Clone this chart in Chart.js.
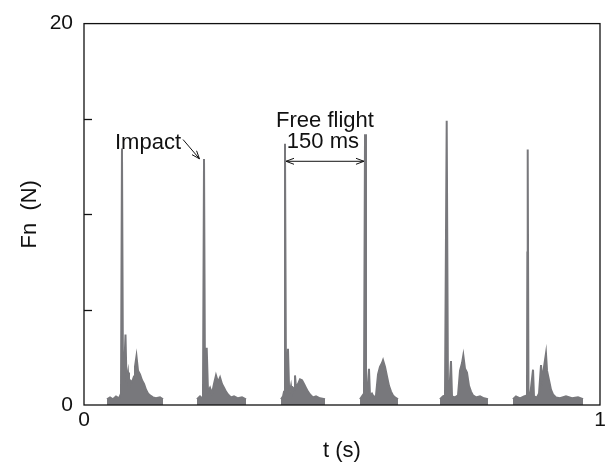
<!DOCTYPE html>
<html>
<head>
<meta charset="utf-8">
<script src="https://cdn.jsdelivr.net/npm/chart.js@4.4.0/dist/chart.umd.min.js"></script>
<style>
  html, body { margin: 0; padding: 0; background: #fff; }
  #wrap { width: 615px; height: 464px; }
</style>
</head>
<body>
<div id="wrap"><canvas id="chart" width="615" height="464"></canvas></div>
<script>
// normal force Fn (N) against time t (s), six hops
const burst1T = [0.0446, 0.0504, 0.0562, 0.0620, 0.0678, 0.0717, 0.0736, 0.0756, 0.0775, 0.0804, 0.0824, 0.0853, 0.0872, 0.0891, 0.0930, 0.0969, 0.0988, 0.1017, 0.1047, 0.1085, 0.1124, 0.1163, 0.1202, 0.1240, 0.1279, 0.1337, 0.1395, 0.1473, 0.1531];
const burst1F = [0.3, 0.4, 0.3, 0.45, 0.35, 0.6, 13.45, 0.8, 1.5, 3.7, 1.2, 1.7, 0.9, 1.3, 1.2, 1.5, 2.0, 2.55, 1.8, 1.6, 1.3, 1.1, 0.8, 0.6, 0.5, 0.4, 0.35, 0.4, 0.3];

const burst2T = [0.2190, 0.2248, 0.2287, 0.2306, 0.2326, 0.2345, 0.2378, 0.2403, 0.2442, 0.2481, 0.2519, 0.2558, 0.2597, 0.2636, 0.2674, 0.2713, 0.2752, 0.2791, 0.2849, 0.2907, 0.2984, 0.3062, 0.3140];
const burst2F = [0.3, 0.45, 0.35, 0.6, 12.9, 0.8, 3.0, 0.7, 0.9, 0.6, 1.1, 1.55, 1.2, 1.45, 1.1, 0.9, 0.7, 0.55, 0.4, 0.45, 0.35, 0.4, 0.3];

const burst3T = [0.3818, 0.3857, 0.3876, 0.3895, 0.3915, 0.3934, 0.3953, 0.3973, 0.3992, 0.4012, 0.4031, 0.4070, 0.4089, 0.4109, 0.4147, 0.4186, 0.4225, 0.4264, 0.4302, 0.4341, 0.4380, 0.4438, 0.4496, 0.4574, 0.4671];
const burst3F = [0.3, 0.45, 0.7, 13.7, 0.9, 1.2, 2.95, 1.0, 0.7, 1.0, 0.6, 0.9, 1.55, 0.9, 1.1, 1.35, 1.3, 1.1, 0.9, 0.7, 0.55, 0.4, 0.45, 0.35, 0.3];

const burst4T = [0.5349, 0.5388, 0.5426, 0.5446, 0.5465, 0.5484, 0.5523, 0.5543, 0.5581, 0.5620, 0.5659, 0.5698, 0.5736, 0.5775, 0.5795, 0.5833, 0.5872, 0.5911, 0.5950, 0.5988, 0.6027, 0.6085];
const burst4F = [0.3, 0.45, 0.6, 14.2, 0.6, 0.45, 1.9, 0.45, 0.6, 0.4, 0.5, 1.6, 2.0, 2.2, 2.35, 2.0, 1.5, 1.0, 0.7, 0.5, 0.4, 0.3];

const burst5T = [0.6899, 0.6957, 0.6996, 0.7029, 0.7054, 0.7074, 0.7112, 0.7132, 0.7190, 0.7248, 0.7287, 0.7326, 0.7351, 0.7384, 0.7422, 0.7461, 0.7500, 0.7539, 0.7597, 0.7674, 0.7752, 0.7829];
const burst5F = [0.3, 0.45, 0.5, 14.9, 0.6, 0.4, 2.3, 0.45, 0.4, 0.5, 1.8, 2.2, 2.6, 1.9, 1.7, 1.0, 0.7, 0.5, 0.4, 0.45, 0.35, 0.3];

const burst6T = [0.8314, 0.8372, 0.8450, 0.8527, 0.8585, 0.8592, 0.8599, 0.8614, 0.8643, 0.8702, 0.8721, 0.8779, 0.8818, 0.8857, 0.8876, 0.8915, 0.8953, 0.8973, 0.9012, 0.9050, 0.9089, 0.9147, 0.9225, 0.9341, 0.9457, 0.9574, 0.9671];
const burst6F = [0.3, 0.45, 0.35, 0.45, 0.5, 8.0, 13.4, 0.7, 0.4, 1.85, 0.45, 0.4, 0.6, 2.1, 1.3, 2.0, 2.7, 1.8, 1.3, 0.8, 0.55, 0.4, 0.35, 0.45, 0.35, 0.4, 0.3];

const bursts = [[burst1T, burst1F], [burst2T, burst2F], [burst3T, burst3F],
                [burst4T, burst4F], [burst5T, burst5F], [burst6T, burst6F]];

const xTicks = [0, 1];
const yTicks = [0, 20];

const FONT = 'Liberation Sans, Arial, Helvetica, sans-serif';
const GREY = '#78787c';

function arrowHead(ctx, x0, y0, x1, y1, len, wid) {
  const a = Math.atan2(y1 - y0, x1 - x0);
  ctx.beginPath();
  ctx.moveTo(x1, y1);
  ctx.lineTo(x1 - len * Math.cos(a) + wid * Math.sin(a), y1 - len * Math.sin(a) - wid * Math.cos(a));
  ctx.moveTo(x1, y1);
  ctx.lineTo(x1 - len * Math.cos(a) - wid * Math.sin(a), y1 - len * Math.sin(a) + wid * Math.cos(a));
  ctx.stroke();
}

// frame, inner ticks and the text notes
const framePlugin = {
  id: 'frame',
  afterDatasetsDraw(chart) {
    const { ctx, chartArea: a, scales: { x, y } } = chart;
    ctx.save();
    ctx.strokeStyle = '#111';
    ctx.lineWidth = 1.3;
    ctx.strokeRect(a.left, a.top, a.right - a.left, a.bottom - a.top);
    [5, 10, 15].forEach(v => {
      const py = Math.round(y.getPixelForValue(v)) + 0.5;
      ctx.beginPath();
      ctx.moveTo(a.left, py);
      ctx.lineTo(a.left + 8, py);
      ctx.stroke();
    });

    ctx.fillStyle = '#111';
    ctx.font = '22px ' + FONT;
    ctx.textBaseline = 'alphabetic';
    ctx.textAlign = 'left';
    ctx.fillText('Impact', x.getPixelForValue(0.0601), y.getPixelForValue(13.4));

    ctx.lineWidth = 1;
    const ax0 = x.getPixelForValue(0.1919), ay0 = y.getPixelForValue(13.92);
    const ax1 = x.getPixelForValue(0.2238), ay1 = y.getPixelForValue(12.91);
    ctx.beginPath();
    ctx.moveTo(ax0, ay0);
    ctx.lineTo(ax1, ay1);
    ctx.stroke();
    arrowHead(ctx, ax0, ay0, ax1, ay1, 8, 3);

    ctx.textAlign = 'center';
    ctx.fillText('Free flight', x.getPixelForValue(0.467), y.getPixelForValue(14.6));
    ctx.fillText('150 ms', x.getPixelForValue(0.463), y.getPixelForValue(13.5));

    const dy = y.getPixelForValue(12.78);
    const dx0 = x.getPixelForValue(0.3915), dx1 = x.getPixelForValue(0.5426);
    ctx.beginPath();
    ctx.moveTo(dx0, dy);
    ctx.lineTo(dx1, dy);
    ctx.stroke();
    arrowHead(ctx, dx1, dy, dx0, dy, 8, 3);
    arrowHead(ctx, dx0, dy, dx1, dy, 8, 3);
    ctx.restore();
  }
};

new Chart(document.getElementById('chart'), {
  type: 'scatter',
  data: {
    datasets: bursts.map(([T, F], i) => ({
      label: 'hop ' + (i + 1),
      data: T.map((t, k) => ({ x: t, y: F[k] })),
      showLine: true,
      fill: 'origin',
      borderColor: GREY,
      backgroundColor: GREY,
      borderWidth: 2,
      pointRadius: 0,
      tension: 0
    }))
  },
  options: {
    responsive: false,
    animation: false,
    devicePixelRatio: 1,
    layout: { padding: { top: 20, right: 15, left: 0, bottom: 0 } },
    plugins: { legend: { display: false }, tooltip: { enabled: false } },
    scales: {
      x: {
        type: 'linear', min: 0, max: 1,
        afterBuildTicks: s => { s.ticks = xTicks.map(v => ({ value: v })); },
        afterFit: s => { s.height = 59; },
        grid: { display: false, drawTicks: false },
        border: { display: false },
        ticks: { color: '#111', font: { family: FONT, size: 21 }, padding: 3, maxRotation: 0 },
        title: { display: true, text: 't (s)', color: '#111', font: { family: FONT, size: 22 }, padding: { top: 0, bottom: 0 } }
      },
      y: {
        type: 'linear', min: 0, max: 20,
        afterBuildTicks: s => { s.ticks = yTicks.map(v => ({ value: v })); },
        afterFit: s => { s.width = 84; },
        grid: { display: false, drawTicks: false },
        border: { display: false },
        ticks: { color: '#111', font: { family: FONT, size: 21 }, padding: 11 },
        title: { display: true, text: 'Fn  (N)', color: '#111', font: { family: FONT, size: 22 }, padding: { top: 17, bottom: 0 } }
      }
    }
  },
  plugins: [framePlugin]
});
</script>
</body>
</html>
